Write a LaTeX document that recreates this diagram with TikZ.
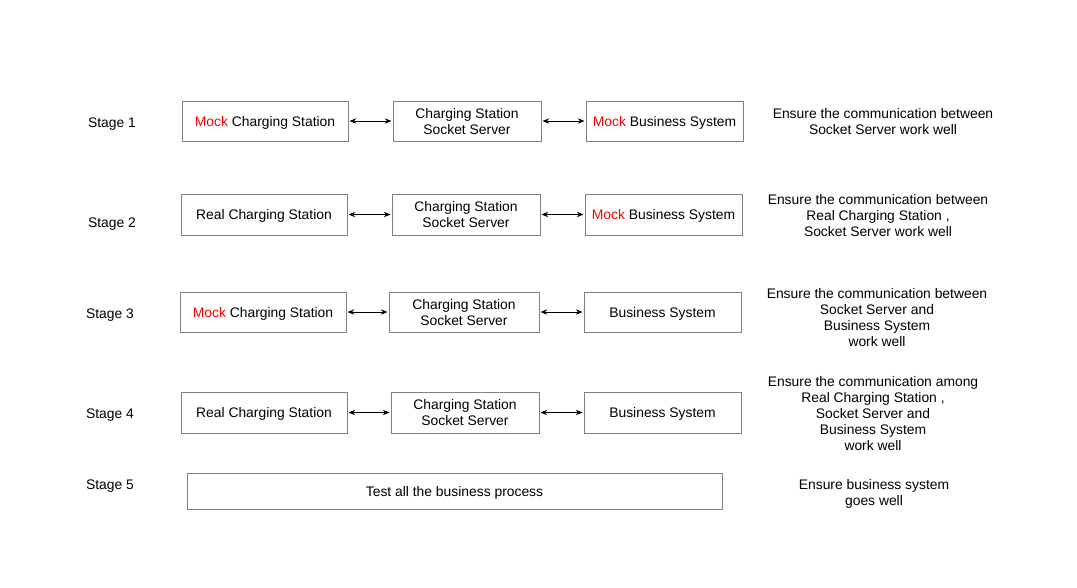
\documentclass[tikz,border=0pt]{standalone}
\usepackage{fontspec}
\setmainfont{Liberation Sans}
\usetikzlibrary{arrows.meta}
\definecolor{boxgray}{HTML}{808080}
\definecolor{mockred}{HTML}{FF0000}
\begin{document}
\begin{tikzpicture}[x=0.75pt,y=-0.75pt,
  every node/.style={font=\fontsize{10.4pt}{12pt}\selectfont, inner sep=0pt},
  box/.style={draw=boxgray, line width=0.75pt, align=center, text depth=0pt},
  lbl/.style={anchor=center, text depth=0pt},
  desc/.style={align=center, anchor=center},
  link/.style={{Stealth[length=5pt,width=4pt]}-{Stealth[length=5pt,width=4pt]}, line width=0.7pt, black}]
\useasboundingbox (0,0) rectangle (1077,587);
\newcommand{\mk}{\textcolor{mockred}{Mock}}
% Row 1
\node[lbl] (s1) at (112,123) {Stage 1};
\node[box,minimum width=124.5pt,minimum height=30pt] (a1) at (265,121) {\mk{} Charging Station};
\node[box,minimum width=111pt,minimum height=30pt] (b1) at (467,121) {Charging Station\\Socket Server};
\node[box,minimum width=117.75pt,minimum height=30pt] (c1) at (664.5,121) {\mk{} Business System};
\node[desc] (d1) at (883,122) {Ensure the communication between\\Socket Server work well};
% Row 2
\node[lbl] (s2) at (112,223) {Stage 2};
\node[box,minimum width=124.5pt,minimum height=30.75pt] (a2) at (264,214.5) {Real Charging Station};
\node[box,minimum width=111pt,minimum height=30.75pt] (b2) at (466,214.5) {Charging Station\\Socket Server};
\node[box,minimum width=117.75pt,minimum height=30.75pt] (c2) at (663.5,214.5) {\mk{} Business System};
\node[desc] (d2) at (878,216) {Ensure the communication between\\Real Charging Station ,\\Socket Server work well};
% Row 3
\node[lbl] (s3) at (110,314) {Stage 3};
\node[box,minimum width=124.5pt,minimum height=30pt] (a3) at (263,312) {\mk{} Charging Station};
\node[box,minimum width=112.5pt,minimum height=30pt] (b3) at (464,312) {Charging Station\\Socket Server};
\node[box,minimum width=117.75pt,minimum height=30pt] (c3) at (662.5,312) {Business System};
\node[desc] (d3) at (877,318) {Ensure the communication between\\Socket Server and\\Business System\\work well};
% Row 4
\node[lbl] (s4) at (110,414) {Stage 4};
\node[box,minimum width=124.5pt,minimum height=30.75pt] (a4) at (264,412.5) {Real Charging Station};
\node[box,minimum width=111pt,minimum height=30.75pt] (b4) at (465,412.5) {Charging Station\\Socket Server};
\node[box,minimum width=117.75pt,minimum height=30.75pt] (c4) at (662.5,412.5) {Business System};
\node[desc] (d4) at (873,414) {Ensure the communication among\\Real Charging Station ,\\Socket Server and\\Business System\\work well};
% Row 5
\node[lbl] (s5) at (110,485) {Stage 5};
\node[box,minimum width=401.25pt,minimum height=27pt] (e5) at (454.5,491) {Test all the business process};
\node[desc] (d5) at (874,494) {Ensure business system\\goes well};
% connectors
\foreach \r in {1,2,3,4}{
  \draw[link] ([xshift=0.75pt]a\r.east) -- ([xshift=-0.75pt]b\r.west);
  \draw[link] ([xshift=0.75pt]b\r.east) -- ([xshift=-0.75pt]c\r.west);
}
\end{tikzpicture}
\end{document}
